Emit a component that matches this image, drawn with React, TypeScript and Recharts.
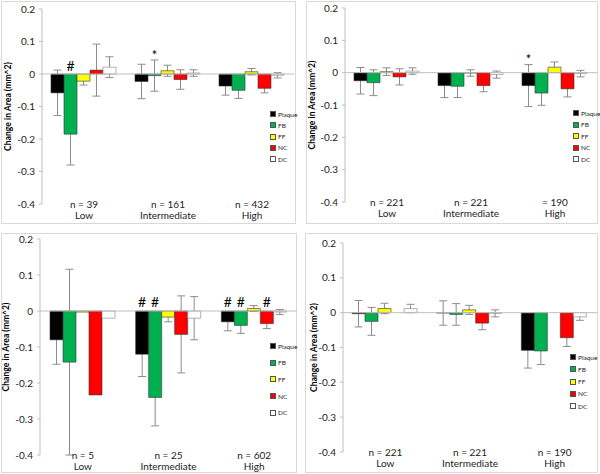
import React from 'react'
import { BarChart, Bar, XAxis, YAxis, ErrorBar, LabelList, ReferenceLine } from 'recharts'

const SERIES = ['Plaque', 'FB', 'FF', 'NC', 'DC']
const SERIES_FILL = ['#000000', '#00B050', '#FFFF00', '#FF0000', '#FFFFFF']
const CATEGORIES = ['Low', 'Intermediate', 'High']
const Y_TICKS = [0.2, 0.1, 0, -0.1, -0.2, -0.3, -0.4]

// top left
const aCounts = ['n = 39', 'n = 161', 'n = 432']
const aMeans = [
  [-0.058, -0.023, -0.037],
  [-0.185, -0.005, -0.05],
  [-0.022, 0.01, 0.007],
  [0.012, -0.017, -0.044],
  [0.021, 0.003, -0.004],
]
const aErrors = [
  [0.07, 0.053, 0.028],
  [0.095, 0.048, 0.025],
  [0.012, 0.017, 0.01],
  [0.08, 0.03, 0.014],
  [0.032, 0.01, 0.008],
]
const aMarks = [
  { series: 'FB', cat: 0, text: '#', at: 0.026 },
  { series: 'FB', cat: 1, text: '*', at: 0.066 },
]

// top right
const bCounts = ['n = 221', 'n = 221', '= 190']
const bMeans = [
  [-0.025, -0.04, -0.04],
  [-0.031, -0.042, -0.063],
  [0.003, -0.001, 0.017],
  [-0.013, -0.04, -0.05],
  [0.005, -0.006, -0.003],
]
const bErrors = [
  [0.041, 0.037, 0.065],
  [0.04, 0.035, 0.038],
  [0.012, 0.01, 0.016],
  [0.025, 0.019, 0.025],
  [0.01, 0.011, 0.01],
]
const bMarks = [{ series: 'Plaque', cat: 2, text: '*', at: 0.052 }]

// bottom left
const cCounts = ['n = 5', 'n = 25', 'n = 602']
const cMeans = [
  [-0.08, -0.12, -0.03],
  [-0.142, -0.24, -0.04],
  [-0.003, -0.017, 0.007],
  [-0.233, -0.065, -0.035],
  [-0.02, -0.02, -0.003],
]
const cErrors = [
  [0.068, 0.062, 0.025],
  [0.258, 0.079, 0.022],
  [null, 0.013, 0.008],
  [null, 0.107, 0.014],
  [null, 0.06, 0.007],
]
const cMarks = [
  { series: 'Plaque', cat: 1, text: '#', at: 0.025 },
  { series: 'FB', cat: 1, text: '#', at: 0.025 },
  { series: 'Plaque', cat: 2, text: '#', at: 0.025 },
  { series: 'FB', cat: 2, text: '#', at: 0.025 },
  { series: 'NC', cat: 2, text: '#', at: 0.025 },
]

// bottom right
const dCounts = ['n = 221', 'n = 221', 'n = 190']
const dMeans = [
  [-0.003, -0.001, -0.108],
  [-0.025, -0.005, -0.11],
  [0.012, 0.008, 0],
  [0, -0.03, -0.072],
  [0.012, -0.002, -0.012],
]
const dErrors = [
  [0.038, 0.035, 0.051],
  [0.04, 0.031, 0.039],
  [0.015, 0.013, 0.012],
  [0.021, 0.019, 0.025],
  [0.012, 0.01, 0.01],
]
const dMarks: any[] = []

function buildRows(means: any[], errors: any[], marks: any[]) {
  return CATEGORIES.map((name, ci) => {
    const row: any = { name }
    SERIES.forEach((s, si) => {
      row[s] = means[si][ci]
      row[s + 'Err'] = errors[si][ci]
    })
    marks.forEach((m) => {
      if (m.cat === ci) {
        row[m.series + 'Mark'] = m.text
        row[m.series + 'MarkAt'] = m.at
      }
    })
    return row
  })
}

const font = 'Lato, "Open Sans", sans-serif'

function Panel({ box, plot, counts, means, errors, marks, legend }: any) {
  const rows = buildRows(means, errors, marks)
  const right = box.left + box.w
  const bottom = box.top + box.h

  // place # / * above the bar, using the bar's own geometry for the scale
  const markContent = (s: string) => (props: any) => {
    const { index } = props
    const vb = props.viewBox || props
    const row = rows[index]
    if (!row || !row[s + 'Mark']) return null
    const v = row[s]
    const h = vb.height
    const k = Math.abs(h) / Math.abs(v)
    const zero = v < 0 ? Math.min(vb.y, vb.y + h) : Math.max(vb.y, vb.y + h)
    const cy = zero - row[s + 'MarkAt'] * k
    const isStar = row[s + 'Mark'] === '*'
    return (
      <text
        x={vb.x + vb.width / 2}
        y={cy}
        dy={isStar ? '0.6em' : '0.36em'}
        textAnchor="middle"
        fontSize={isStar ? 13 : 14}
        fill="#000"
        fontFamily={font}
      >
        {row[s + 'Mark']}
      </text>
    )
  }

  const renderTick = (props: any) => {
    const { x, y, index, payload } = props
    return (
      <g>
        <text x={x} y={y + 4} textAnchor="middle" fontSize={10} fill="#222" fontFamily={font}>
          {counts[index]}
        </text>
        <text x={x} y={y + 15} textAnchor="middle" fontSize={10} fill="#222" fontFamily={font}>
          {payload.value}
        </text>
      </g>
    )
  }

  return (
    <>
      <div
        style={{
          position: 'absolute',
          left: box.left,
          top: box.top,
          width: box.w,
          height: box.h,
          border: '1px solid #d9d9d9',
          boxSizing: 'border-box',
        }}
      />
      <div style={{ position: 'absolute', left: box.left, top: box.top }}>
        <BarChart
          width={box.w}
          height={box.h}
          data={rows}
          barGap={0}
          barCategoryGap={plot.gap}
          margin={{ top: plot.y0 - box.top, right: right - plot.x1, bottom: 0, left: 0 }}
        >
          <XAxis
            dataKey="name"
            height={bottom - plot.y1}
            axisLine={false}
            tickLine={false}
            tickSize={0}
            tickMargin={0}
            interval={0}
            tick={renderTick}
          />
          <YAxis
            type="number"
            width={plot.x0 - box.left}
            domain={[-0.4, 0.2]}
            ticks={Y_TICKS}
            interval={0}
            allowDataOverflow
            axisLine={{ stroke: '#bfbfbf' }}
            tickLine={{ stroke: '#bfbfbf' }}
            tickSize={3}
            tickMargin={4}
            tick={{ fontSize: 10, fill: '#222', fontFamily: font }}
            tickFormatter={(v: number) => (v === 0 ? '0' : v.toFixed(1))}
            label={{
              value: 'Change in Area (mm^2)',
              angle: -90,
              position: 'insideLeft',
              offset: plot.labelX - box.left,
              style: { textAnchor: 'middle', fontWeight: 'bold', fontSize: 8.6, fill: '#000', fontFamily: font },
            }}
          />
          <ReferenceLine y={0} stroke="#bfbfbf" strokeWidth={1} />
          {SERIES.map((s, si) => (
            <Bar
              key={s}
              dataKey={s}
              fill={SERIES_FILL[si]}
              stroke={si === 4 ? '#7f7f7f' : '#333'}
              strokeWidth={0.6}
              isAnimationActive={false}
            >
              <ErrorBar
                dataKey={s + 'Err'}
                width={4}
                stroke="#8c8c8c"
                strokeWidth={1}
                direction="y"
                zIndex={100}
              />
              <LabelList dataKey={s + 'Mark'} content={markContent(s)} />
            </Bar>
          ))}
        </BarChart>
      </div>
      <div style={{ position: 'absolute', left: legend.x, top: legend.y, fontFamily: font }}>
        {SERIES.map((s, si) => (
          <div
            key={s}
            style={{
              position: 'absolute',
              left: 0,
              top: si * legend.step - 4,
              height: 8,
              display: 'flex',
              alignItems: 'center',
              whiteSpace: 'nowrap',
            }}
          >
            <span
              style={{
                display: 'inline-block',
                width: 4,
                height: 4,
                background: SERIES_FILL[si],
                border: '0.5px solid #555',
                marginRight: 2,
              }}
            />
            <span style={{ fontSize: 6.5, color: '#222' }}>{s}</span>
          </div>
        ))}
      </div>
    </>
  )
}

export default function App() {
  return (
    <div
      style={{
        position: 'absolute',
        left: 0,
        top: 0,
        width: 600,
        height: 474,
        background: '#fff',
        fontFamily: font,
        overflow: 'hidden',
      }}
    >
      <Panel
        box={{ left: 1, top: 1, w: 295, h: 223 }}
        plot={{ x0: 42, x1: 294, y0: 9, y1: 204, gap: 9, labelX: 8 }}
        counts={aCounts}
        means={aMeans}
        errors={aErrors}
        marks={aMarks}
        legend={{ x: 270, y: 114, step: 11.3 }}
      />
      <Panel
        box={{ left: 306, top: 1, w: 292, h: 223 }}
        plot={{ x0: 345, x1: 597, y0: 8, y1: 202, gap: 9, labelX: 312 }}
        counts={bCounts}
        means={bMeans}
        errors={bErrors}
        marks={bMarks}
        legend={{ x: 573, y: 113, step: 11.5 }}
      />
      <Panel
        box={{ left: 1, top: 233, w: 296, h: 240 }}
        plot={{ x0: 40, x1: 297, y0: 239, y1: 455, gap: 10, labelX: 6 }}
        counts={cCounts}
        means={cMeans}
        errors={cErrors}
        marks={cMarks}
        legend={{ x: 270, y: 346, step: 16.7 }}
      />
      <Panel
        box={{ left: 305, top: 233, w: 293, h: 240 }}
        plot={{ x0: 343, x1: 597, y0: 243, y1: 452, gap: 9, labelX: 314 }}
        counts={dCounts}
        means={dMeans}
        errors={dErrors}
        marks={dMarks}
        legend={{ x: 570, y: 357, step: 12.3 }}
      />
    </div>
  )
}
